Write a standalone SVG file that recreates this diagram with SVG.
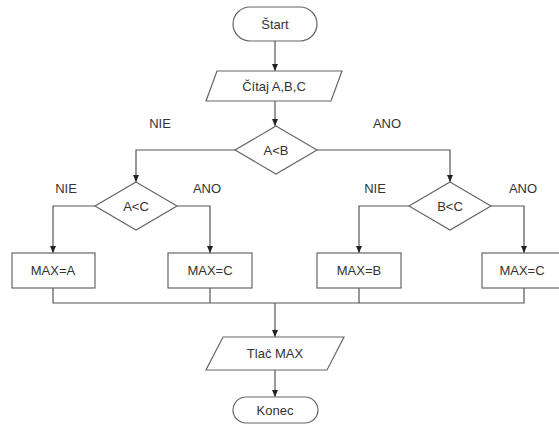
<svg xmlns="http://www.w3.org/2000/svg" width="559" height="430" viewBox="0 0 559 430">
<style>
.s{fill:#fff;stroke:#666;stroke-width:1.2}
.t{font-family:"Liberation Sans",Arial,sans-serif;font-size:13px;fill:#333;text-anchor:middle;dominant-baseline:central}
.l{font-family:"Liberation Sans",Arial,sans-serif;font-size:13px;fill:#333;text-anchor:middle}
.c{fill:none;stroke:#555;stroke-width:1.2}
</style>
<defs>
<marker id="a" markerWidth="8" markerHeight="8" refX="7" refY="4" orient="auto" markerUnits="userSpaceOnUse">
<path d="M0,1 L7,4 L0,7 Z" fill="#222"/>
</marker>
</defs>
<rect width="559" height="430" fill="#fff"/>
<g id="connectors">
<path class="c" d="M275,41 V71" marker-end="url(#a)"/>
<path class="c" d="M275,101 V126" marker-end="url(#a)"/>
<path class="c" d="M235,150 H136 V182" marker-end="url(#a)"/>
<path class="c" d="M317,150 H450 V182" marker-end="url(#a)"/>
<path class="c" d="M95,206 H53 V253" marker-end="url(#a)"/>
<path class="c" d="M177,206 H210 V253" marker-end="url(#a)"/>
<path class="c" d="M409,206 H359 V253" marker-end="url(#a)"/>
<path class="c" d="M491,206 H524 V253" marker-end="url(#a)"/>
<path class="c" d="M53,288 V303 H524 V288 M210,288 V303 M359,288 V303"/>
<path class="c" d="M275,303 V337" marker-end="url(#a)"/>
<path class="c" d="M275,370 V397" marker-end="url(#a)"/>
<text class="l" x="160" y="128">NIE</text>
<text class="l" x="387" y="128">ANO</text>
<text class="l" x="66" y="193">NIE</text>
<text class="l" x="207" y="193">ANO</text>
<text class="l" x="375" y="193">NIE</text>
<text class="l" x="523" y="193">ANO</text>
</g>
<g id="start"><rect class="s" x="233" y="7" width="84" height="34" rx="17"/><text class="t" x="275" y="24">Štart</text></g>
<g id="read"><polygon class="s" points="217,71 342,71 331,101 206,101"/><text class="t" x="274" y="86">Čítaj A,B,C</text></g>
<g id="ab"><polygon class="s" points="276,126 317,150 276,174 235,150"/><text class="t" x="276" y="150">A&lt;B</text></g>
<g id="ac"><polygon class="s" points="136,182 177,206 136,230 95,206"/><text class="t" x="136" y="206">A&lt;C</text></g>
<g id="bc"><polygon class="s" points="450,182 491,206 450,230 409,206"/><text class="t" x="450" y="206">B&lt;C</text></g>
<g id="maxa"><rect class="s" x="12" y="253" width="83" height="35"/><text class="t" x="53" y="270">MAX=A</text></g>
<g id="maxc1"><rect class="s" x="168" y="253" width="84" height="35"/><text class="t" x="210" y="270">MAX=C</text></g>
<g id="maxb"><rect class="s" x="317" y="253" width="84" height="35"/><text class="t" x="359" y="270">MAX=B</text></g>
<g id="maxc2"><rect class="s" x="482" y="253" width="84" height="35"/><text class="t" x="522" y="270">MAX=C</text></g>
<g id="print"><polygon class="s" points="223,337 344,337 327,370 206,370"/><text class="t" x="275" y="353">Tlač MAX</text></g>
<g id="end"><rect class="s" x="233" y="397" width="85" height="26" rx="13"/><text class="t" x="275" y="410">Konec</text></g>
</svg>
